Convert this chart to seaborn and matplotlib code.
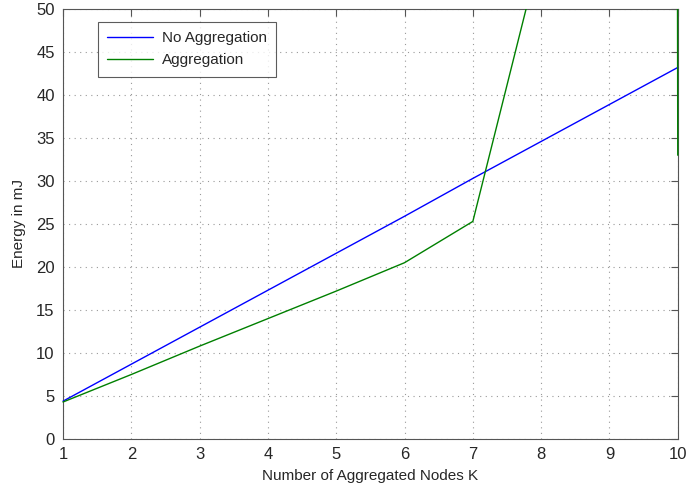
import numpy as np
import pandas as pd
import seaborn as sns
import matplotlib.pyplot as plt
from matplotlib.patches import Rectangle

# data
nodes_k = [1, 2, 3, 4, 5, 6, 7, 8, 9, 10]
no_aggregation = [4.4, 8.7, 13.0, 17.3, 21.6, 25.9, 30.3, 34.6, 38.9, 43.2]
aggregation = [4.3, 7.5, 10.8, 14.0, 17.2, 20.5, 25.3, 57.0, 5000.0, 33.0]

df = pd.DataFrame({
    "K": nodes_k * 2,
    "Energy": no_aggregation + aggregation,
    "series": ["No Aggregation"] * 10 + ["Aggregation"] * 10,
})

sns.set_style("white")
plt.rcParams['font.family'] = ['Liberation Sans', 'DejaVu Sans']

fig = plt.figure(figsize=(6.98, 4.87), dpi=100)
ax = fig.add_axes([0.0903, 0.0986, 0.8807, 0.8829])

sns.lineplot(data=df, x="K", y="Energy", hue="series",
             palette={"No Aggregation": "#0000ff", "Aggregation": "#008000"},
             linewidth=1.0, ax=ax, zorder=3)

# let the line sitting on the right edge show over the spine
for ln in ax.lines:
    ln.set_clip_path(Rectangle((-0.01, 0), 1.02, 1, transform=ax.transAxes))

ax.set_xlim(1, 10)
ax.set_ylim(0, 50)
ax.set_xticks(range(1, 11))
ax.set_yticks(range(0, 51, 5))
ax.grid(True, linestyle=(0, (1, 4)), color="#999999", linewidth=0.8)
ax.tick_params(direction="in", top=True, right=True, length=5, pad=6,
               labelsize=12, color="#555555", width=0.8)
for s in ax.spines.values():
    s.set_color("#555555")
    s.set_linewidth(0.8)

ax.set_xlabel("Number of Aggregated Nodes K", fontsize=11, labelpad=5)
ax.set_ylabel("Energy in mJ", fontsize=11, labelpad=7)

leg = ax.legend(loc="upper left", bbox_to_anchor=(0.057, 0.97), fontsize=11,
                frameon=True, fancybox=False, edgecolor="#333333",
                borderaxespad=0, handlelength=3.0, handletextpad=0.6,
                borderpad=0.6, labelspacing=0.55)
leg.get_frame().set_linewidth(0.8)

fig.savefig("out.png", dpi=100)
